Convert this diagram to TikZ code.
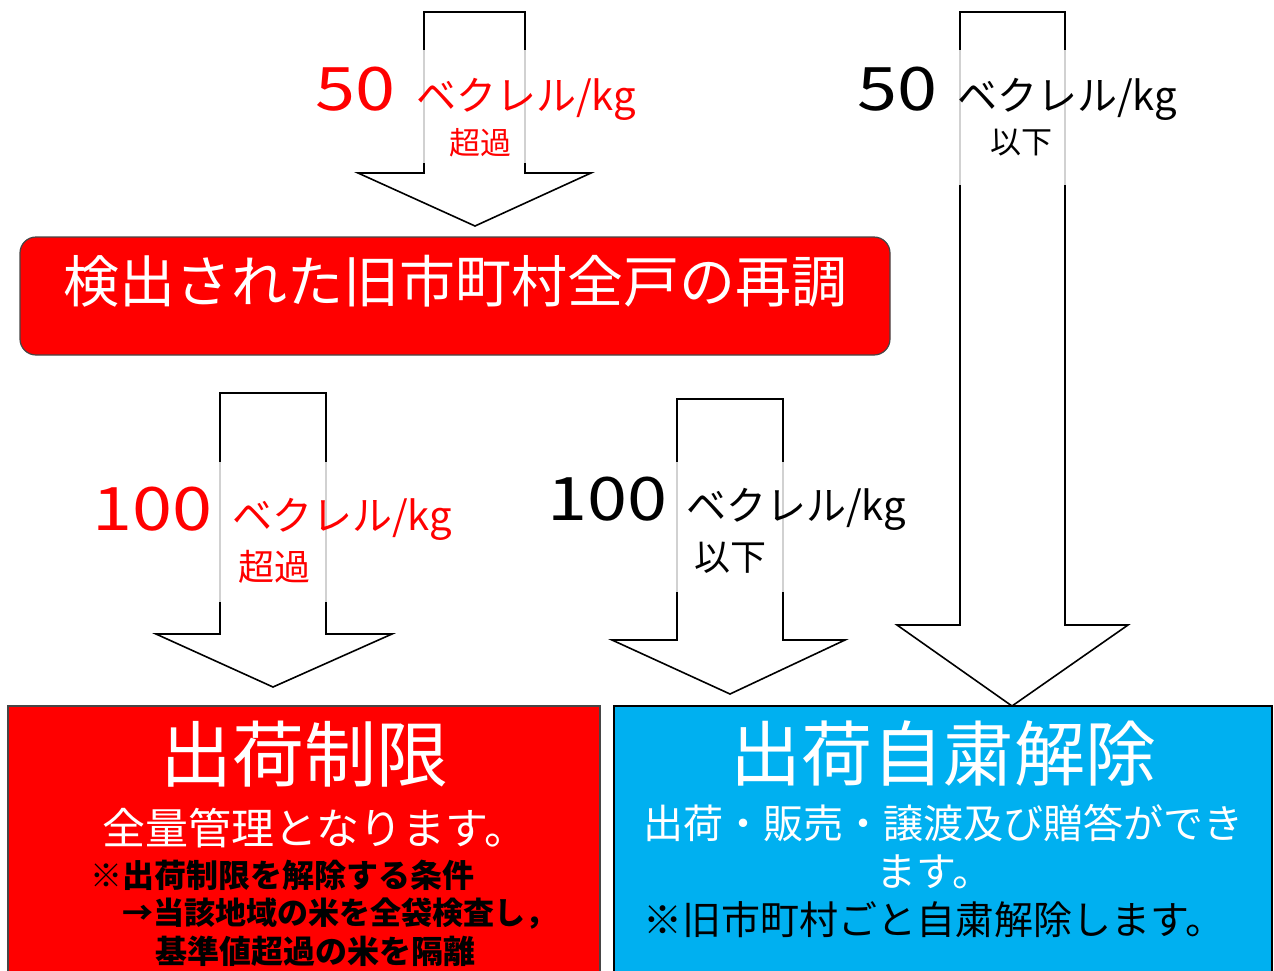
\documentclass[tikz,border=0pt]{standalone}
\usepackage{fontspec}
\setmainfont{Noto Sans CJK JP}
\newfontfamily\widedigits[FakeStretch=1.2]{Noto Sans CJK JP}
\definecolor{myred}{RGB}{255,0,0}
\definecolor{myblue}{RGB}{0,176,240}
\definecolor{boxedge}{RGB}{70,70,70}
\begin{document}
\begin{tikzpicture}[x=1pt,y=-1pt,
  blockarrow/.style={draw=black, line width=1.6pt, fill=white, line join=miter},
  grayedge/.style={draw=black!18, line width=1.6pt},
  lbl/.style={inner sep=0pt, anchor=base west},
  ctr/.style={inner sep=0pt, anchor=center},
  lft/.style={inner sep=0pt, anchor=west},
  fs/.style={font=\fontsize{#1}{#1}\selectfont},
  fsb/.style={font=\fontsize{#1}{#1}\selectfont\bfseries},
  fsd/.style={font=\fontsize{#1}{#1}\selectfont\widedigits},
]
\useasboundingbox (0,0) rectangle (1274,970);

% ---------- block arrows ----------
% top middle
\draw[blockarrow] (424,12) -- (525,12) -- (525,173) -- (591,173) -- (475,226) -- (358,173) -- (424,173) -- cycle;
\draw[grayedge] (424,50) -- (424,163) (525,50) -- (525,163);
% top right
\draw[blockarrow] (960,12) -- (1065,12) -- (1065,625) -- (1128,625) -- (1012,706) -- (897,625) -- (960,625) -- cycle;
\draw[grayedge] (960,50) -- (960,185) (1065,50) -- (1065,185);
% middle left
\draw[blockarrow] (220,393) -- (326,393) -- (326,634) -- (392,634) -- (273,687) -- (156,634) -- (220,634) -- cycle;
\draw[grayedge] (220,462) -- (220,602) (326,462) -- (326,602);
% middle
\draw[blockarrow] (677,399) -- (783,399) -- (783,640) -- (845,640) -- (730,694) -- (612,640) -- (677,640) -- cycle;
\draw[grayedge] (677,462) -- (677,592) (783,462) -- (783,592);

% ---------- arrow labels ----------
\node[lbl, fsd=60, text=myred] (n50a) at (315,110) {50};
\node[lbl, fs=40, text=myred] (bqa) at (416,110) {ベクレル/kg};
\node[ctr, fs=31, text=myred] (ova) at (480,143) {超過};

\node[lbl, fsd=60, text=black] (n50b) at (857,110) {50};
\node[lbl, fs=40, text=black] (bqb) at (957,110) {ベクレル/kg};
\node[ctr, fs=31, text=black] (una) at (1021,143) {以下};

\node[lbl, fsd=60, text=myred] (n100a) at (92,530) {100};
\node[lbl, fs=40, text=myred] (bqc) at (232,530) {ベクレル/kg};
\node[ctr, fs=36, text=myred] (ovb) at (274,567) {超過};

\node[lbl, fsd=60, text=black] (n100b) at (547,520) {100};
\node[lbl, fs=40, text=black] (bqd) at (686,520) {ベクレル/kg};
\node[ctr, fs=36, text=black] (unb) at (730,558) {以下};

% ---------- re-inspection box ----------
\draw[draw=boxedge, line width=1.2pt, fill=myred, rounded corners=16pt] (20,237) rectangle (890,355);
\node[ctr, fs=56, text=white] (reinsp) at (455,281) {検出された旧市町村全戸の再調};

% ---------- bottom boxes ----------
\draw[draw=boxedge, line width=1.4pt, fill=myred] (8,706) rectangle (600,980);
\node[ctr, fs=72, text=white] (limT) at (304,754) {出荷制限};
\node[ctr, fs=43, text=white] (limA) at (315,828) {全量管理となります。};
\node[lft, fsb=32, text=black] (limB) at (90,875) {※出荷制限を解除する条件};
\node[lft, fsb=31, text=black] (limC) at (122,914) {→当該地域の米を全袋検査し，};
\node[lft, fsb=32, text=black] (limD) at (155,951) {基準値超過の米を隔離};

\draw[draw=black, line width=1.4pt, fill=myblue] (614,706) rectangle (1272,980);
\node[ctr, fs=71, text=white] (relT) at (943,754) {出荷自粛解除};
\node[ctr, fs=40, text=white] (relA) at (943,823) {出荷・販売・譲渡及び贈答ができ};
\node[ctr, fs=40, text=white] (relB) at (934,872) {ます。};
\node[lft, fs=39, text=black] (relC) at (643,920) {※旧市町村ごと自粛解除します。};
\end{tikzpicture}
\end{document}
